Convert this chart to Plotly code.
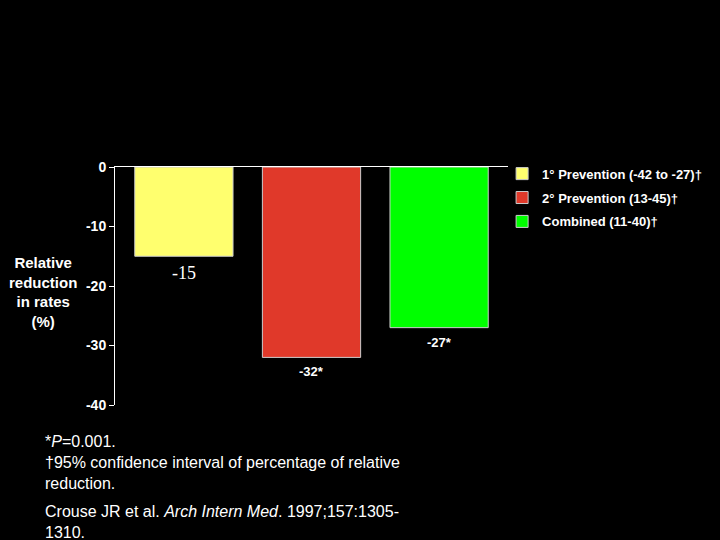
import plotly.graph_objects as go

groups = ['1° Prevention (-42 to -27)†', '2° Prevention (13-45)†', 'Combined (11-40)†']
cats = ['A', 'B', 'C']
values = [-15, -32, -27]
bar_labels = ['-15', '-32*', '-27*']
colors = ['#FFFF6E', '#E0392A', '#00FF00']
yticks = [0, -10, -20, -30, -40]

fig = go.Figure()
for g, c, v, col in zip(groups, cats, values, colors):
    fig.add_trace(go.Bar(x=[c], y=[v], name=g, legendgroup=g, marker_color=col,
                         marker_line=dict(color='#cccccc', width=1)))

# value labels under each bar
for i, (c, v, t) in enumerate(zip(cats, values, bar_labels)):
    if i == 0:
        f = dict(family='Liberation Serif', size=18, color='white')
    else:
        f = dict(family='Liberation Sans', size=13, color='white', weight='bold')
    fig.add_annotation(x=c, y=v, text=t, showarrow=False, yanchor='top',
                       yshift=-5, font=f)

fig.add_annotation(xref='paper', yref='paper', x=-0.183, y=0.475, xanchor='center',
                   text='Relative<br>reduction<br>in rates<br>(%)', showarrow=False,
                   align='center', font=dict(family='Liberation Sans', size=15, color='white', weight='bold'))

fig.add_annotation(xref='paper', yref='paper', x=-0.183, y=-0.11, xanchor='left', yanchor='top',
                   text='*<i>P</i>=0.001.<br>†95% confidence interval of percentage of relative<br>reduction.',
                   showarrow=False, align='left',
                   font=dict(family='Liberation Sans', size=16, color='white'))
fig.add_annotation(xref='paper', yref='paper', x=-0.183, y=-0.405, xanchor='left', yanchor='top',
                   text='Crouse JR et al. <i>Arch Intern Med</i>. 1997;157:1305-<br>1310.',
                   showarrow=False, align='left',
                   font=dict(family='Liberation Sans', size=16, color='white'))

fig.update_layout(
    width=720, height=540, autosize=False,
    paper_bgcolor='black', plot_bgcolor='black',
    margin=dict(l=115, r=212, t=167, b=135),
    barmode='overlay', bargap=0.23,
    font=dict(family='Liberation Sans', color='white'),
    legend=dict(x=0.985, y=1.035, xanchor='left', yanchor='top',
                font=dict(size=13, color='white', weight='bold'),
                bgcolor='rgba(0,0,0,0)', itemwidth=30, tracegroupgap=4),
    xaxis=dict(side='top', showline=True, linecolor='white', linewidth=1,
               showticklabels=False, ticks='', showgrid=False, zeroline=False,
               range=[-0.54, 2.54]),
    yaxis=dict(range=[-40, 0], tickvals=yticks, ticktext=[str(t) for t in yticks],
               showline=True, linecolor='white', linewidth=1,
               ticks='outside', ticklen=5, tickcolor='white',
               showgrid=False, zeroline=False,
               tickfont=dict(size=14, color='white', weight='bold')),
)

fig.write_html('out.html', config={'displayModeBar': False},
               post_script="document.body.style.margin='0';document.body.style.background='black';")
